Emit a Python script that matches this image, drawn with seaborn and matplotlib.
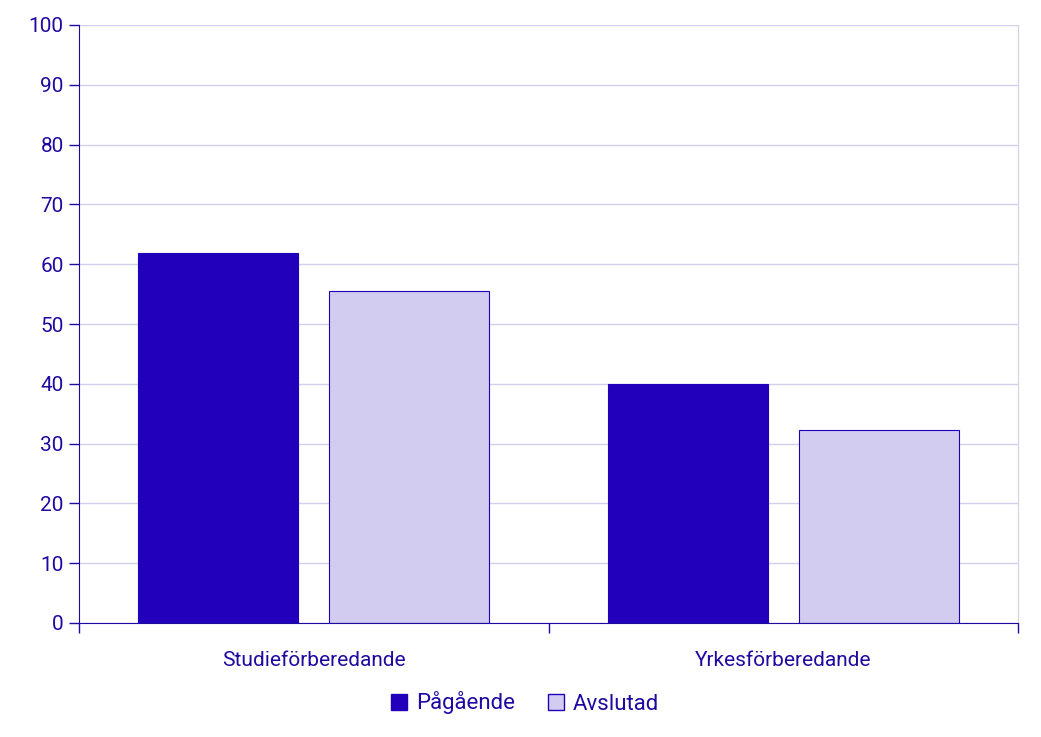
import matplotlib
matplotlib.use("Agg")
import matplotlib.pyplot as plt
import seaborn as sns
import pandas as pd
from matplotlib.patches import Patch

categories = ["Studieförberedande", "Yrkesförberedande"]
series = ["Pågående", "Avslutad"]
pagaende = [61.8, 39.9]
avslutad = [55.6, 32.3]
yticks = list(range(0, 101, 10))

df = pd.DataFrame({
    "cat": categories * 2,
    "serie": [series[0]] * 2 + [series[1]] * 2,
    "val": pagaende + avslutad,
})

sns.set_style("white")
plt.rcParams["font.family"] = ["Roboto", "DejaVu Sans"]
txt = "#1E0AA0"
dark = "#2200BB"
light = "#D2CCF0"
gridc = "#D4D0EC"

fig = plt.figure(figsize=(10.41, 7.37), dpi=100)
ax = fig.add_axes([79/1041, 1-623/737, 939/1041, 598/737])
sns.barplot(data=df, x="cat", y="val", hue="serie", hue_order=series,
            palette=[dark, light], saturation=1, width=0.814, gap=0.164, ax=ax,
            edgecolor=dark, linewidth=0.8, legend=False)
ax.set_xlim(-0.5, 1.5)
ax.set_ylim(0, 100)
ax.set_yticks(yticks)
ax.set_yticklabels([str(t) for t in yticks], color=txt, fontsize=15)
ax.yaxis.grid(True, color=gridc, linewidth=1)
ax.set_axisbelow(True)
ax.set_xlabel("")
ax.set_ylabel("")
ax.set_xticks([0, 1])
ax.set_xticklabels(categories, color=txt, fontsize=15)
ax.tick_params(axis="x", which="major", length=0, pad=20, bottom=True)
ax.set_xticks([-0.5, 0.5, 1.5], minor=True)
ax.tick_params(axis="x", which="minor", length=7, color=txt, width=1, bottom=True)
ax.tick_params(axis="y", length=7, color=txt, width=1, pad=4, left=True)
ax.spines["top"].set_visible(False)
ax.spines["right"].set_color(gridc)
ax.spines["left"].set_color(txt)
ax.spines["bottom"].set_color(txt)

handles = [Patch(facecolor=dark, edgecolor=dark), Patch(facecolor=light, edgecolor=dark)]
fig.legend(handles, series, loc="center", bbox_to_anchor=(525/1041, 1-703/737),
           ncol=2, frameon=False, fontsize=16, labelcolor=txt,
           handlelength=0.7, handleheight=0.7, handletextpad=0.4, columnspacing=1.5)
fig.savefig("out.png", dpi=100)
